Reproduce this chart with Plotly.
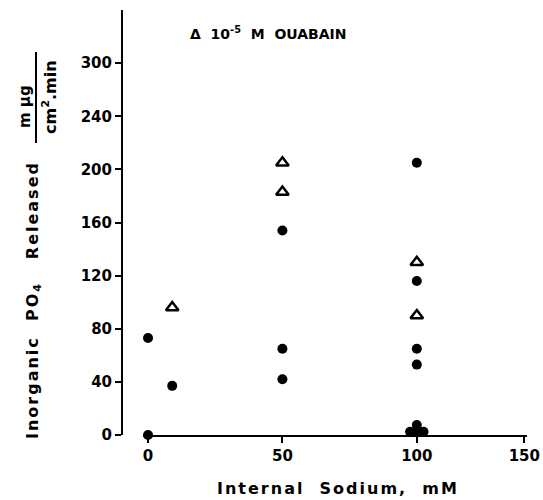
import plotly.graph_objects as go

# Control (filled circles)
ctrl_x = [0, 0, 9, 50, 50, 50, 100, 100, 100, 100, 100, 97.5, 102.5, 100]
ctrl_y = [73, 0, 37, 154, 65, 42, 205, 116, 65, 53, 7.5, 2.5, 2.5, 2]
# 10^-5 M ouabain (open triangles)
ouab_x = [9, 50, 50, 100, 100]
ouab_y = [96, 205, 183, 130, 90]

x_tickvals = [0, 50, 100, 140]
x_ticktext = ["0", "50", "100", "150"]
y_tickvals = [0, 40, 80, 120, 160, 200, 240, 280]
y_ticktext = ["0", "40", "80", "120", "160", "200", "240", "300"]

FONT = "DejaVu Sans"
L, T, PW, PH = 122, 10, 405, 425

fig = go.Figure()
fig.add_trace(go.Scatter(x=ctrl_x, y=ctrl_y, mode="markers", cliponaxis=False,
                         marker=dict(symbol="circle", size=10, color="black"),
                         showlegend=False))
fig.add_trace(go.Scatter(x=ouab_x, y=ouab_y, mode="markers", cliponaxis=False,
                         marker=dict(symbol="triangle-up-open", size=11, color="black",
                                     line=dict(width=2.5, color="black")),
                         showlegend=False))

fig.update_layout(
    width=543, height=500,
    margin=dict(l=L, r=543 - L - PW, t=T, b=500 - T - PH),
    paper_bgcolor="white", plot_bgcolor="white",
    font=dict(family=FONT, color="black", size=14),
    xaxis=dict(domain=[0.051, 1], range=[-2, 141], tickvals=x_tickvals, ticktext=x_ticktext,
               showline=True, linecolor="black", linewidth=2, ticks="outside",
               ticklen=6, tickwidth=2, tickcolor="black", showgrid=False, zeroline=False,
               automargin=False,
               tickfont=dict(size=15, family=FONT, weight="bold"), anchor="y"),
    yaxis=dict(range=[0, 320], tickvals=y_tickvals, ticktext=y_ticktext,
               anchor="free", position=0, automargin=False,
               showline=True, linecolor="black", linewidth=2, ticks="outside",
               ticklen=6, tickwidth=2, tickcolor="black", showgrid=False, zeroline=False,
               tickfont=dict(size=15, family=FONT, weight="bold")),
)


def spaced(s, px):
    return f'<span style="letter-spacing:{px}px">{s}</span>'


anns = [
    dict(text=spaced("Internal  Sodium,  mM", 2), x=338, y=489, size=16),
    dict(text=spaced("Inorganic  PO<sub>4</sub>   Released", 2), x=33, y=300, angle=-90, size=16),
    dict(text="m μg", x=25, y=107, angle=-90, size=15),
    dict(text="cm<sup>2</sup>.min", x=49, y=97, angle=-90, size=16),
    dict(text="Δ  10<sup>-5</sup>  M  OUABAIN", x=268, y=33, size=14),
]
for a in anns:
    fig.add_annotation(text=a["text"], xref="paper", yref="paper",
                       x=(a["x"] - L) / PW, y=1 - (a["y"] - T) / PH,
                       xanchor="center", yanchor="middle", showarrow=False,
                       textangle=a.get("angle", 0),
                       font=dict(family=FONT, color="black", size=a["size"], weight="bold"))

fig.add_shape(type="line", xref="paper", yref="paper",
              x0=(36 - L) / PW, x1=(36 - L) / PW,
              y0=1 - (52 - T) / PH, y1=1 - (143 - T) / PH,
              line=dict(color="black", width=2))

fig.write_html("out.html", config={"displayModeBar": False},
               post_script="document.body.style.margin='0px';")
